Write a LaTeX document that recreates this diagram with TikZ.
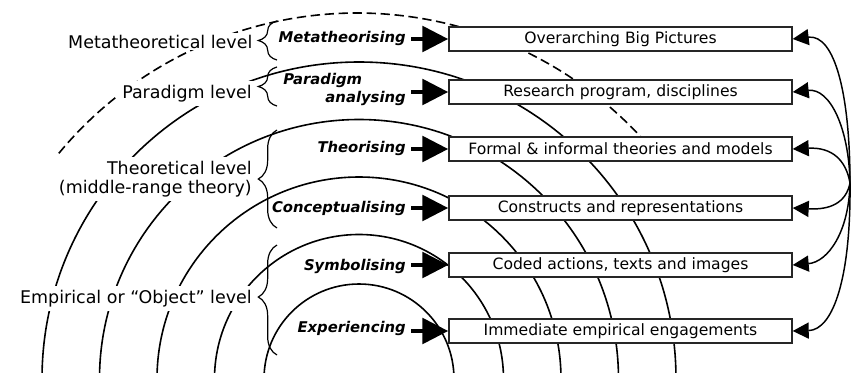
\documentclass[tikz,border=0pt]{standalone}
\usepackage{fontspec}
\setmainfont{DejaVu Sans}
\usetikzlibrary{arrows.meta,decorations.pathreplacing,calc}
\begin{document}
\begin{tikzpicture}[x=0.75pt,y=-0.75pt,
  ring/.style={line width=1.2pt},
  dashring/.style={line width=1.2pt, dash pattern=on 7pt off 3.5pt},
  levellabel/.style={fill=white, inner sep=3pt, align=right,
    font=\fontsize{13.1}{14.3}\selectfont},
  actlabel/.style={inner sep=0pt, font=\fontsize{11.1}{13}\selectfont\bfseries\itshape},
  stagebox/.style={draw=black!85, line width=1.3pt, fill=white,
    minimum width=257pt, minimum height=18pt, inner sep=0pt,
    font=\fontsize{11.7}{14}\selectfont},
  feed/.style={line width=3.5pt, -{Triangle[length=19.5pt,width=19pt]}},
  back/.style={line width=1.1pt, -{Triangle[length=12pt,width=12pt]}},
  lbrace/.style={decorate, line width=0.9pt},
]
\useasboundingbox (0,0) rectangle (853,372);

% concentric rings, one per level
\draw[ring] (359,379) ++(180:95)  arc[start angle=180, end angle=360, radius=95];
\draw[ring] (359,379) ++(180:144.5) arc[start angle=180, end angle=360, radius=144.5];
\draw[ring] (359,379) ++(180:202) arc[start angle=180, end angle=360, radius=202];
\draw[ring] (359,379) ++(180:259.5) arc[start angle=180, end angle=360, radius=259.5];
\draw[ring] (359,379) ++(180:317) arc[start angle=180, end angle=360, radius=317];
\draw[dashring] (357,400) ++(219.6:387) arc[start angle=219.6, end angle=320, radius=387];

% level names
\node[levellabel, inner sep=1pt, anchor=base east] (lmeta) at (254,48) {Metatheoretical level};
\node[levellabel, anchor=base east] (lpar) at (256,98) {Paradigm level};
\node[levellabel, anchor=east] (ltheo) at (256,179) {Theoretical level\\(middle-range theory)};
\node[levellabel, anchor=base east] (lemp) at (256,303) {Empirical or “Object” level};

% braces
\draw[lbrace, decoration={brace, amplitude=14pt}] (277,60) -- (277,21);
\draw[lbrace, decoration={brace, amplitude=14pt}] (277,106) -- (277,67);
\draw[lbrace, decoration={brace, amplitude=14pt}] (277,228) -- (277,130);
\draw[lbrace, decoration={brace, amplitude=14pt, aspect=0.527}] (277,355) -- (277,245);

% outcome boxes
\node[stagebox] (b1) at (620.5,39)  {Overarching Big Pictures};
\node[stagebox] (b2) at (620.5,92)  {Research program, disciplines};
\node[stagebox] (b3) at (620.5,149) {Formal \& informal theories and models};
\node[stagebox] (b4) at (620.5,208) {Constructs and representations};
\node[stagebox] (b5) at (620.5,265) {Coded actions, texts and images};
\node[stagebox] (b6) at (620.5,331) {Immediate empirical engagements};

% activities
\node[actlabel, anchor=base east] (m1) at (406,42)  {Metatheorising};
\node[actlabel, anchor=base west] (m2a) at (283,84) {Paradigm};
\node[actlabel, anchor=base east] (m2) at (406,102) {analysing};
\node[actlabel, anchor=base east] (m3) at (406,152) {Theorising};
\node[actlabel, anchor=base east] (m4) at (406,212) {Conceptualising};
\node[actlabel, anchor=base east] (m5) at (406,270) {Symbolising};
\node[actlabel, anchor=base east] (m6) at (406,332) {Experiencing};

\draw[feed] ($(b1.west -| m1.east)+(5,0)$) -- (b1.west);
\draw[feed] ($(b2.west -| m2.east)+(5,0)$) -- (b2.west);
\draw[feed] ($(b3.west -| m3.east)+(5,0)$) -- (b3.west);
\draw[feed] ($(b4.west -| m4.east)+(5,0)$) -- (b4.west);
\draw[feed] ($(b5.west -| m5.east)+(5,0)$) -- (b5.west);
\draw[feed] ($(b6.west -| m6.east)+(5,0)$) -- (b6.west);

% feedback from the common source on the right
\coordinate (hub) at (850,183);
\draw[back] (hub) .. controls (850,95) and (835,34) .. (b1.east);
\draw[back] (hub) .. controls (849,128) and (830,88) .. (b2.east);
\draw[back] (hub) .. controls (846,160) and (832,147) .. (b3.east);
\draw[back] (hub) .. controls (846,203) and (830,210) .. (b4.east);
\draw[back] (hub) .. controls (849,232) and (828,262) .. (b5.east);
\draw[back] (hub) .. controls (851,275) and (834,330) .. (b6.east);
\end{tikzpicture}
\end{document}
